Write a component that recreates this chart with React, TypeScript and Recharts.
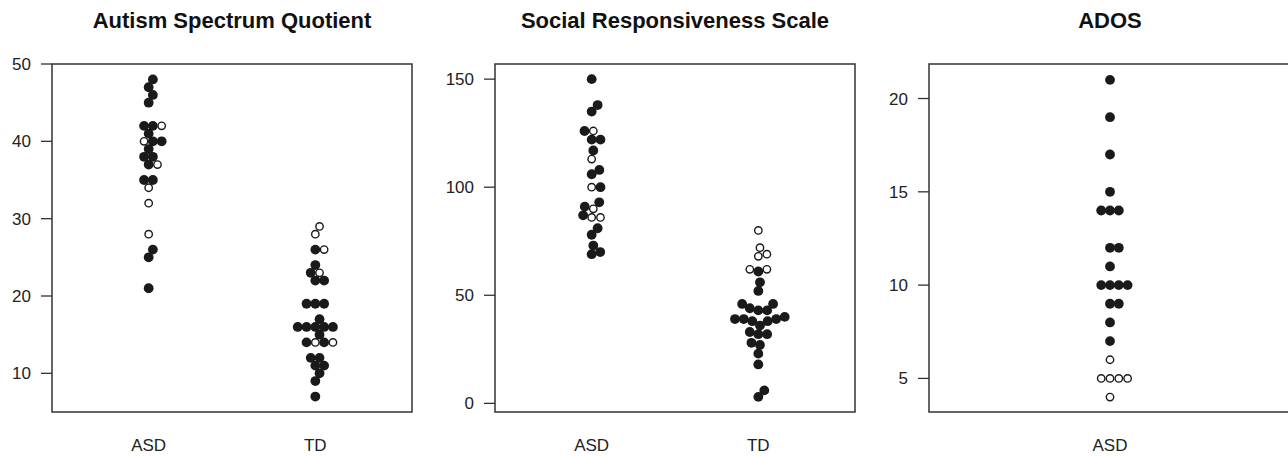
import React from "react";
import { ScatterChart, Scatter, XAxis, YAxis, ReferenceArea } from "recharts";

// Autism Spectrum Quotient (1 = open circle)
const aqAsd = [48, 47, 46, 45, 42, 42, 42, 41, 40, 40, 40, 39, 38, 38, 37, 37, 35, 35, 34, 32, 28, 26, 25, 21];
const aqAsdOpen = [0, 0, 0, 0, 0, 0, 1, 0, 0, 1, 0, 0, 0, 0, 0, 1, 0, 0, 1, 1, 1, 0, 0, 0];
const aqTd = [29, 28, 26, 26, 24, 23, 23, 22, 22, 19, 19, 19, 17, 16, 16, 16, 16, 16, 15, 14, 14, 14, 14, 12, 12, 11, 11, 10, 9, 7];
const aqTdOpen = [1, 1, 0, 1, 0, 1, 0, 0, 0, 0, 0, 0, 0, 0, 0, 0, 0, 0, 0, 1, 0, 0, 1, 0, 0, 0, 0, 0, 0, 0];
const aqTicks = [10, 20, 30, 40, 50];

// Social Responsiveness Scale
const srsAsd = [150, 138, 135, 126, 126, 122, 122, 117, 113, 108, 106, 100, 100, 93, 91, 90, 87, 86, 86, 81, 78, 73, 70, 69];
const srsAsdOpen = [0, 0, 0, 1, 0, 0, 0, 0, 1, 0, 0, 1, 0, 0, 0, 1, 0, 1, 1, 0, 0, 0, 0, 0];
const srsTd = [80, 72, 69, 68, 62, 62, 61, 56, 52, 46, 46, 44, 43, 43, 40, 39, 39, 39, 38, 38, 36, 33, 32, 32, 28, 27, 23, 18, 6, 3];
const srsTdOpen = [1, 1, 1, 1, 1, 1, 0, 0, 0, 0, 0, 0, 0, 0, 0, 0, 0, 0, 0, 0, 0, 0, 0, 0, 0, 0, 0, 0, 0, 0];
const srsTicks = [0, 50, 100, 150];

// ADOS
const adosAsd = [21, 19, 17, 15, 14, 14, 14, 12, 12, 11, 10, 10, 10, 10, 9, 9, 8, 7, 6, 5, 5, 5, 5, 4];
const adosAsdOpen = [0, 0, 0, 0, 0, 0, 0, 0, 0, 0, 0, 0, 0, 0, 0, 0, 0, 0, 1, 1, 1, 1, 1, 1];
const adosTicks = [5, 10, 15, 20];

const FONT = "'Liberation Sans', Arial, sans-serif";
const INK = "#1a1a1a";
const AXIS = "#333";
const SPACING = 8.8; // swarm spacing in px
const PLOT_H = 348;
const Y_AXIS_W = 52;

// beeswarm "swarm" layout, ascending priority (like R's beeswarm)
function swarm(values: number[], pxPerUnit: number): number[] {
  const order = values.map((_, i) => i).sort((a, b) => values[a] - values[b]);
  const placed: { v: number; o: number }[] = [];
  const out = new Array(values.length).fill(0);
  for (const idx of order) {
    const v = (values[idx] * pxPerUnit) / SPACING;
    let pre = placed.filter((p) => Math.abs(v - p.v) < 1);
    let best = 0;
    if (pre.length) {
      pre = pre.slice().sort((a, b) => Math.abs(a.o) - Math.abs(b.o));
      const offs = pre.map((p) => Math.sqrt(1 - (v - p.v) ** 2));
      const cands = [0, ...pre.map((p, k) => p.o + offs[k]), ...pre.map((p, k) => p.o - offs[k])];
      let bestAbs = Infinity;
      for (const c of cands) {
        const bad = pre.some((p) => (v - p.v) ** 2 + (c - p.o) ** 2 < 0.999);
        if (!bad && Math.abs(c) < bestAbs) {
          bestAbs = Math.abs(c);
          best = c;
        }
      }
    }
    placed.push({ v, o: best });
    out[idx] = best;
  }
  return out;
}

interface Group {
  label: string;
  values: number[];
  open: number[];
}

interface PanelProps {
  title: string;
  left: number;
  width: number;
  plotW: number;
  xDomain: [number, number];
  yDomain: [number, number];
  yTicks: number[];
  groups: Group[];
}

function Panel({ title, left, width, plotW, xDomain, yDomain, yTicks, groups }: PanelProps) {
  const pxY = PLOT_H / (yDomain[1] - yDomain[0]);
  const pxX = plotW / (xDomain[1] - xDomain[0]);
  const filled: { x: number; y: number }[] = [];
  const hollow: { x: number; y: number }[] = [];
  groups.forEach((g, gi) => {
    const offs = swarm(g.values, pxY);
    g.values.forEach((v, i) => {
      const pt = { x: gi + 1 + (offs[i] * SPACING) / pxX, y: v };
      (g.open[i] ? hollow : filled).push(pt);
    });
  });
  const labels = groups.map((g) => g.label);

  return (
    <div style={{ position: "absolute", left, top: 0 }}>
      <div
        style={{
          position: "absolute",
          left: Y_AXIS_W,
          top: 10,
          width: plotW,
          textAlign: "center",
          fontFamily: FONT,
          fontWeight: "bold",
          fontSize: 22,
          lineHeight: "22px",
          color: "#111",
          whiteSpace: "nowrap",
        }}
      >
        {title}
      </div>
      <ScatterChart width={width} height={456} margin={{ top: 64, right: width - Y_AXIS_W - plotW, bottom: 0, left: 0 }}>
        <XAxis
          type="number"
          dataKey="x"
          domain={xDomain}
          allowDataOverflow
          ticks={groups.map((_, i) => i + 1)}
          tickFormatter={(t: number) => labels[t - 1] ?? ""}
          tickLine={false}
          axisLine={false}
          tickSize={19}
          tickMargin={8}
          height={44}
          tick={{ fill: "#222", fontSize: 17, fontFamily: FONT }}
        />
        <YAxis
          type="number"
          dataKey="y"
          domain={yDomain}
          allowDataOverflow
          ticks={yTicks}
          width={Y_AXIS_W}
          axisLine={false}
          tickSize={11}
          tickMargin={10}
          tickLine={{ stroke: AXIS, strokeWidth: 1.3 }}
          tick={{ fill: "#222", fontSize: 17, fontFamily: FONT }}
        />
        <ReferenceArea
          x1={xDomain[0]}
          x2={xDomain[1]}
          y1={yDomain[0]}
          y2={yDomain[1]}
          fill="none"
          fillOpacity={0}
          stroke={AXIS}
          strokeWidth={1.5}
        />
        <Scatter
          data={filled}
          isAnimationActive={false}
          shape={(p: any) => <circle cx={p.cx} cy={p.cy} r={4.9} fill={INK} />}
        />
        <Scatter
          data={hollow}
          isAnimationActive={false}
          shape={(p: any) => <circle cx={p.cx} cy={p.cy} r={3.7} fill="#fff" stroke={INK} strokeWidth={1.4} />}
        />
      </ScatterChart>
    </div>
  );
}

export default function App() {
  return (
    <div style={{ position: "absolute", left: 0, top: 0, width: 1288, height: 456, overflow: "hidden", background: "#fff" }}>
      <Panel
        title="Autism Spectrum Quotient"
        left={0}
        width={440}
        plotW={360}
        xDomain={[0.42, 2.58]}
        yDomain={[5, 50]}
        yTicks={aqTicks}
        groups={[
          { label: "ASD", values: aqAsd, open: aqAsdOpen },
          { label: "TD", values: aqTd, open: aqTdOpen },
        ]}
      />
      <Panel
        title="Social Responsiveness Scale"
        left={443}
        width={440}
        plotW={360}
        xDomain={[0.42, 2.58]}
        yDomain={[-4, 157]}
        yTicks={srsTicks}
        groups={[
          { label: "ASD", values: srsAsd, open: srsAsdOpen },
          { label: "TD", values: srsTd, open: srsTdOpen },
        ]}
      />
      <Panel
        title="ADOS"
        left={877}
        width={414}
        plotW={362}
        xDomain={[0.46, 1.54]}
        yDomain={[3.2, 21.85]}
        yTicks={adosTicks}
        groups={[{ label: "ASD", values: adosAsd, open: adosAsdOpen }]}
      />
    </div>
  );
}
